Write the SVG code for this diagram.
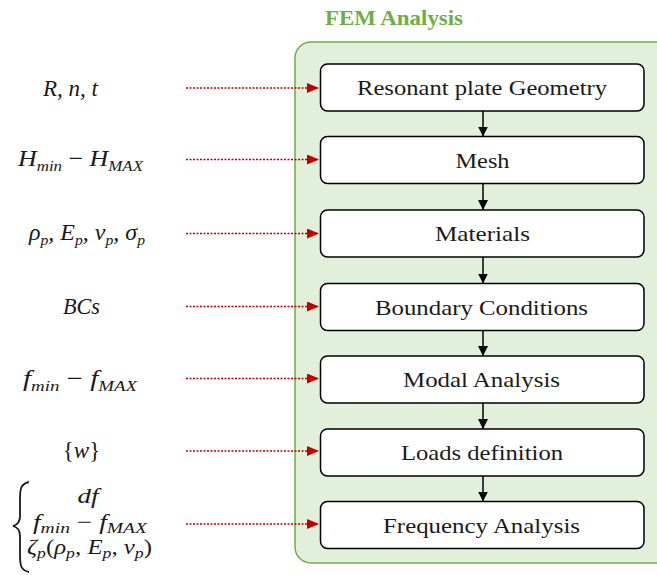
<svg xmlns="http://www.w3.org/2000/svg" width="657" height="575" viewBox="0 0 657 575">
<defs>
<marker id="ab" viewBox="0 0 10 10" refX="10" refY="5" markerWidth="10" markerHeight="10" markerUnits="userSpaceOnUse" orient="auto">
<path d="M0,0 L10,5 L0,10 z" fill="#000"/>
</marker>
<marker id="ar" viewBox="0 0 12 10" refX="12" refY="5" markerWidth="12" markerHeight="10" markerUnits="userSpaceOnUse" orient="auto">
<path d="M0,0 L12,5 L0,10 z" fill="#c00000"/>
</marker>
</defs>
<style>
.box{fill:#fff;stroke:#000;stroke-width:1.5}
.bt{font-family:"Liberation Serif",serif;font-size:21px;fill:#1a1a1a;text-anchor:middle}
.m{font-family:"Liberation Serif",serif;font-style:italic;font-size:23px;fill:#1a1a1a;text-anchor:middle}
.g{font-size:21px}
.s{font-size:15px}
.up{font-style:normal}
.flow{stroke:#000;stroke-width:1.5;fill:none;marker-end:url(#ab)}
.inp{stroke:#c00000;stroke-width:1.5;stroke-dasharray:2 1.5;fill:none;marker-end:url(#ar)}
</style>
<rect width="657" height="575" fill="#fff"/>
<g id="container">
<rect x="295" y="42" width="380" height="521" rx="16" fill="#e2efda" stroke="#70ad47" stroke-width="1.5"/>
<text x="394" y="25" font-family="Liberation Serif, serif" font-weight="bold" font-size="21px" fill="#70ad47" text-anchor="middle" textLength="138" lengthAdjust="spacingAndGlyphs">FEM Analysis</text>
</g>
<g id="n1"><rect class="box" x="320.5" y="64" width="323.5" height="47" rx="7"/><text class="bt" x="482" y="95" textLength="250" lengthAdjust="spacingAndGlyphs">Resonant plate Geometry</text></g>
<g id="n2"><rect class="box" x="320.5" y="136.5" width="323.5" height="47" rx="7"/><text class="bt" x="482.5" y="167.5" textLength="54" lengthAdjust="spacingAndGlyphs">Mesh</text></g>
<g id="n3"><rect class="box" x="320.5" y="210" width="323.5" height="47" rx="7"/><text class="bt" x="482.5" y="241" textLength="95" lengthAdjust="spacingAndGlyphs">Materials</text></g>
<g id="n4"><rect class="box" x="320.5" y="283.5" width="323.5" height="47" rx="7"/><text class="bt" x="481.5" y="314.5" textLength="213" lengthAdjust="spacingAndGlyphs">Boundary Conditions</text></g>
<g id="n5"><rect class="box" x="320.5" y="356" width="323.5" height="47" rx="7"/><text class="bt" x="481.5" y="387" textLength="157" lengthAdjust="spacingAndGlyphs">Modal Analysis</text></g>
<g id="n6"><rect class="box" x="320.5" y="429" width="323.5" height="47" rx="7"/><text class="bt" x="482" y="460" textLength="162" lengthAdjust="spacingAndGlyphs">Loads definition</text></g>
<g id="n7"><rect class="box" x="320.5" y="501.5" width="323.5" height="47" rx="7"/><text class="bt" x="481.5" y="532.5" textLength="197" lengthAdjust="spacingAndGlyphs">Frequency Analysis</text></g>
<g id="inputs">
<text id="i1" class="m" x="70.5" y="96" textLength="55" lengthAdjust="spacingAndGlyphs">R, n, t</text>
<text id="i2" class="m" x="80.5" y="166" textLength="125" lengthAdjust="spacingAndGlyphs">H<tspan class="s" dy="5">min</tspan><tspan class="up" dy="-5"> − </tspan>H<tspan class="s" dy="5">MAX</tspan></text>
<text id="i3" class="m" x="87" y="240" textLength="116" lengthAdjust="spacingAndGlyphs">ρ<tspan class="s" dy="5">p</tspan><tspan dy="-5">, E</tspan><tspan class="s" dy="5">p</tspan><tspan dy="-5">, ν</tspan><tspan class="s" dy="5">p</tspan><tspan dy="-5">, σ</tspan><tspan class="s" dy="5">p</tspan></text>
<text id="i4" class="m" x="81.5" y="314" textLength="37" lengthAdjust="spacingAndGlyphs">BCs</text>
<text id="i5" class="m" x="80" y="386" textLength="114" lengthAdjust="spacingAndGlyphs">f<tspan class="s" dy="5">min</tspan><tspan class="up" dy="-5"> − </tspan>f<tspan class="s" dy="5">MAX</tspan></text>
<text id="i6" class="m" x="81.5" y="458"><tspan class="up">{</tspan>w<tspan class="up">}</tspan></text>
<g id="i7">
<path d="M29,482 C20,484 20,490 20,500 L20,516 C20,522 17,525 13,526 C17,527 20,530 20,536 L20,554 C20,564 20,570 29,572" fill="none" stroke="#1a1a1a" stroke-width="1.8"/>
<text class="m g" x="88" y="503" textLength="21" lengthAdjust="spacingAndGlyphs">df</text>
<text class="m g" x="90" y="528.5" textLength="114" lengthAdjust="spacingAndGlyphs">f<tspan class="s" dy="4">min</tspan><tspan class="up" dy="-4"> − </tspan>f<tspan class="s" dy="4">MAX</tspan></text>
<text class="m g" x="89.5" y="553.5" textLength="125" lengthAdjust="spacingAndGlyphs">ζ<tspan class="s" dy="4">p</tspan><tspan class="up" dy="-4">(</tspan>ρ<tspan class="s" dy="4">p</tspan><tspan dy="-4">, E</tspan><tspan class="s" dy="4">p</tspan><tspan dy="-4">, ν</tspan><tspan class="s" dy="4">p</tspan><tspan class="up" dy="-4">)</tspan></text>
</g>
</g>
<g id="connectors">
<line class="flow" x1="483" y1="111" x2="483" y2="136.5"/>
<line class="flow" x1="483" y1="183.5" x2="483" y2="210"/>
<line class="flow" x1="483" y1="257" x2="483" y2="283.5"/>
<line class="flow" x1="483" y1="330.5" x2="483" y2="356"/>
<line class="flow" x1="483" y1="403" x2="483" y2="429"/>
<line class="flow" x1="483" y1="476" x2="483" y2="501.5"/>
<line class="inp" x1="186" y1="88" x2="319" y2="88"/>
<line class="inp" x1="186" y1="159.5" x2="319" y2="159.5"/>
<line class="inp" x1="186" y1="233.5" x2="319" y2="233.5"/>
<line class="inp" x1="186" y1="306.5" x2="319" y2="306.5"/>
<line class="inp" x1="186" y1="378.5" x2="319" y2="378.5"/>
<line class="inp" x1="186" y1="451" x2="319" y2="451"/>
<line class="inp" x1="186" y1="524" x2="319" y2="524"/>
</g>
</svg>
